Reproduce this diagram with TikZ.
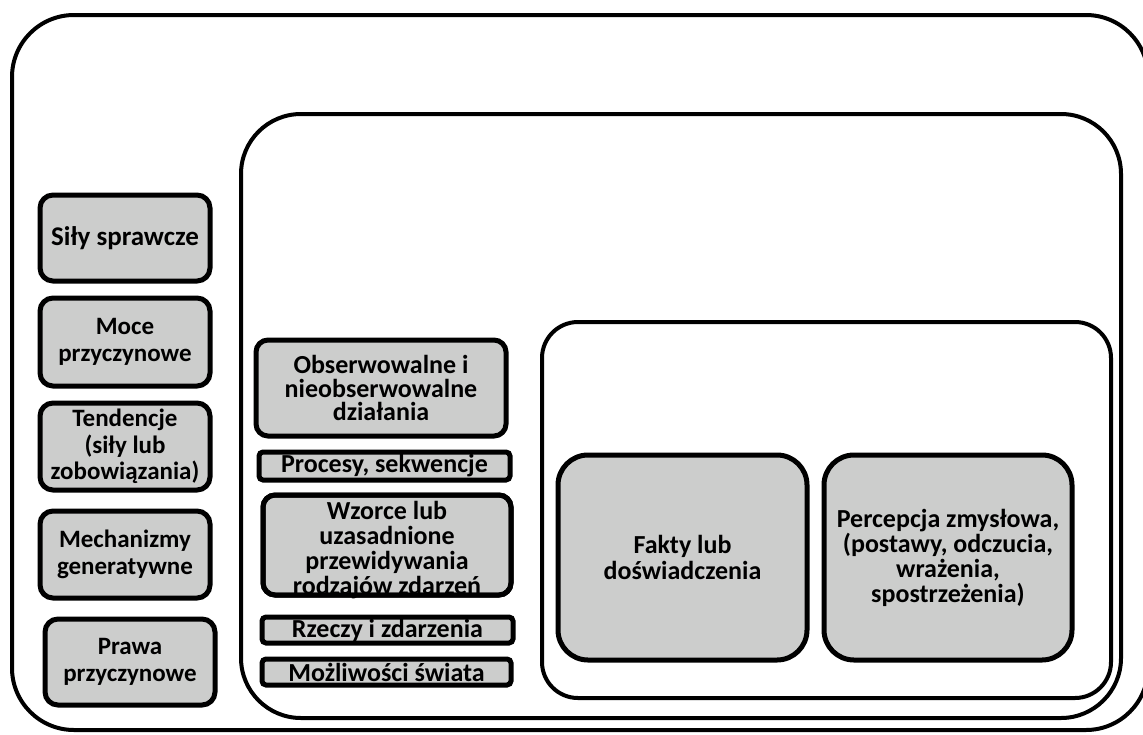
\documentclass[tikz,border=0pt]{standalone}
\usepackage{fontspec}
\setmainfont{Carlito}
\definecolor{boxgray}{RGB}{204,205,204}
\newcommand{\mybox}[7]{%
  \node[#2, minimum width={#5-#3}, minimum height={#6-#4}] (#1) at ({(#3+#5)/2},{(#4+#6)/2}) {#7};}
\tikzset{
  frame/.style={draw=black, line width=4pt, rounded corners=#1, inner sep=0pt},
  gbox/.style={draw=black, fill=boxgray, line width=5pt, rounded corners=#1, inner sep=0pt, align=center,
     font=\bfseries\fontsize{25}{26.5}\selectfont},
  mtext/.style={font=\bfseries\fontsize{26}{24}\selectfont},
  gtext/.style={inner sep=0pt, align=center, font=\bfseries\fontsize{26}{25}\selectfont},
}
\begin{document}
\begin{tikzpicture}[x=1pt,y=-1pt]
\useasboundingbox (0,0) rectangle (1143,734);
\fill[white] (0,0) rectangle (1143,734);
\clip (0,0) rectangle (1143,734);
% containers
\mybox{outer}{frame=62}{12}{15}{1148}{730}{}
\mybox{middle}{frame=60}{241}{114}{1121}{718}{}
\mybox{inner}{frame=36}{542}{322}{1111}{698}{}
% left column
\mybox{sily}{gbox=13, font=\bfseries\fontsize{27}{28}\selectfont}{40}{195}{210}{281}{Siły sprawcze}
\mybox{moce}{gbox=13}{40}{298}{210}{386}{Moce\\przyczynowe}
\mybox{tend}{gbox=13}{40}{403}{210}{490}{Tendencje\\(siły lub\\zobowiązania)}
\mybox{mech}{gbox=13}{40}{511}{210}{598}{Mechanizmy\\generatywne}
\mybox{prawa}{gbox=13}{45}{619}{215}{705}{Prawa\\przyczynowe}
% middle column
\mybox{obs}{gbox=12, font=\bfseries\fontsize{26}{23.5}\selectfont}{256}{340}{506}{436}{Obserwowalne i\\nieobserwowalne\\działania}
\mybox{proc}{gbox=4, mtext}{259}{452}{510}{480}{Procesy, sekwencje}
\mybox{wz}{gbox=12}{263}{495}{511}{595}{}
\node[gtext] (wzt) at (387,550) {Wzorce lub\\uzasadnione\\przewidywania\\rodzajów zdarzeń};
\mybox{wzb}{gbox=12, fill=none}{263}{495}{511}{595}{}
\mybox{rz}{gbox=4, mtext}{262}{617}{513}{643}{Rzeczy i zdarzenia}
\mybox{moz}{gbox=4, mtext}{262}{659}{511}{685}{Możliwości świata}
% right
\mybox{fakty}{gbox=30, font=\bfseries\fontsize{26}{26}\selectfont}{558}{455}{807}{660}{Fakty lub\\doświadczenia}
\mybox{perc}{gbox=30, font=\bfseries\fontsize{26}{25}\selectfont}{824}{455}{1072}{660}{Percepcja zmysłowa,\\(postawy, odczucia,\\wrażenia,\\spostrzeżenia)}
\end{tikzpicture}
\end{document}
